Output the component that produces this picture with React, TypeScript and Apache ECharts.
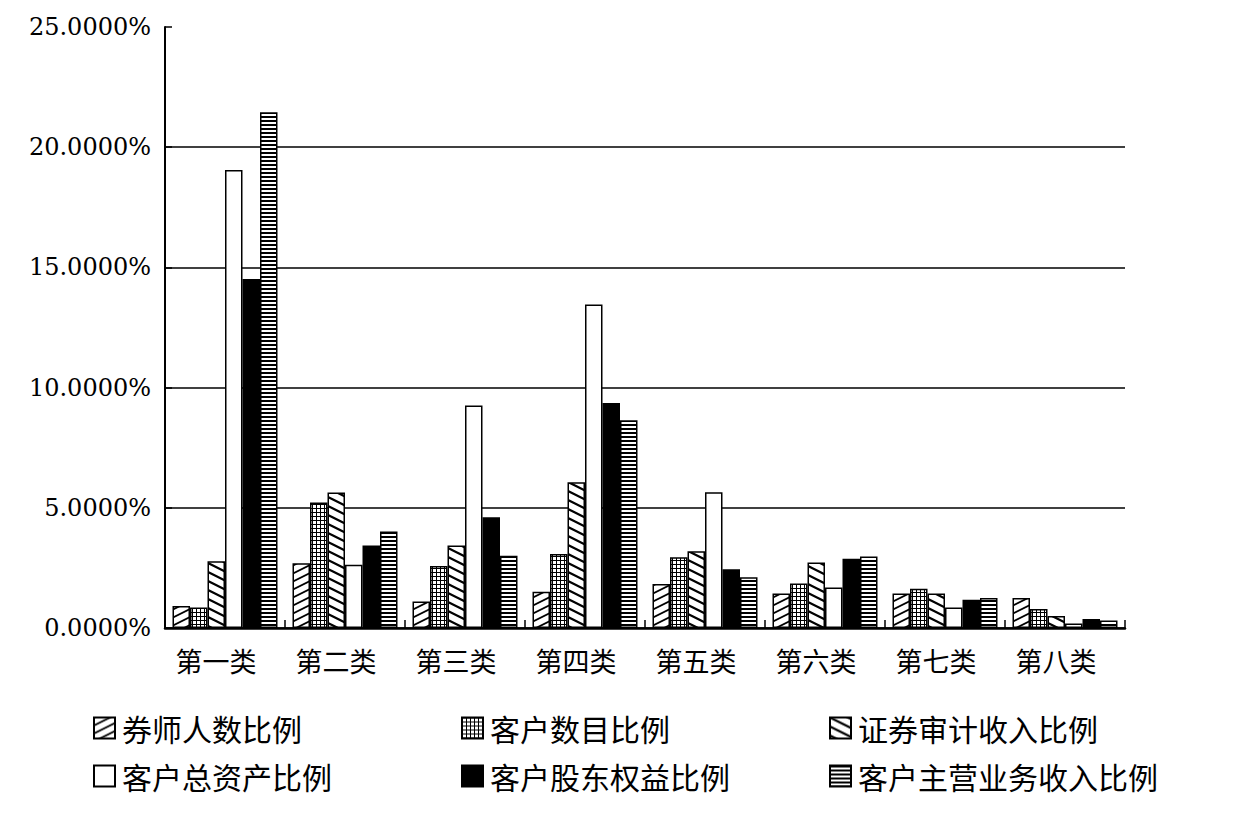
import React, { useEffect, useRef } from "react";
import * as echarts from "echarts";

const categories = ["第一类", "第二类", "第三类", "第四类", "第五类", "第六类", "第七类", "第八类"];
const seriesNames = ["券师人数比例", "客户数目比例", "证券审计收入比例", "客户总资产比例", "客户股东权益比例", "客户主营业务收入比例"];
const s1 = [0.92, 2.69, 1.1, 1.51, 1.83, 1.44, 1.44, 1.25];
const s2 = [0.85, 5.22, 2.58, 3.08, 2.94, 1.85, 1.63, 0.79];
const s3 = [2.78, 5.64, 3.43, 6.06, 3.19, 2.72, 1.44, 0.5];
const s4 = [19.05, 2.63, 9.26, 13.46, 5.65, 1.68, 0.85, 0.19];
const s5 = [14.52, 3.43, 4.61, 9.36, 2.44, 2.88, 1.17, 0.37];
const s6 = [21.45, 4.01, 3.01, 8.64, 2.11, 2.97, 1.25, 0.31];
const yTicks = [0, 5, 10, 15, 20, 25];

function makeCanvas(w: number, h: number, draw: (ctx: CanvasRenderingContext2D) => void) {
  const c = document.createElement("canvas");
  c.width = w;
  c.height = h;
  const ctx = c.getContext("2d")!;
  ctx.fillStyle = "#fff";
  ctx.fillRect(0, 0, w, h);
  ctx.strokeStyle = "#000";
  ctx.fillStyle = "#000";
  draw(ctx);
  return c;
}

function pattern(c: HTMLCanvasElement) {
  return { image: c, repeat: "repeat", imageWidth: c.width, imageHeight: c.height } as any;
}

export default function App() {
  const ref = useRef<HTMLDivElement>(null);
  useEffect(() => {
    if (!ref.current) return;
    const chart = echarts.init(ref.current, null, { renderer: "svg" });

    const slash = makeCanvas(16, 8, (ctx) => {
      ctx.lineWidth = 1.8;
      for (let k = -2; k <= 2; k++) {
        ctx.beginPath();
        ctx.moveTo(-16, 16 + k * 8);
        ctx.lineTo(32, -8 + k * 8);
        ctx.stroke();
      }
    });
    const dots = makeCanvas(4, 4, (ctx) => {
      ctx.fillRect(0, 0, 4, 1);
      ctx.fillRect(0, 0, 1, 4);
    });
    const back = makeCanvas(18, 9, (ctx) => {
      ctx.lineWidth = 2.2;
      for (let k = -2; k <= 2; k++) {
        ctx.beginPath();
        ctx.moveTo(-18, -9 + k * 9);
        ctx.lineTo(36, 18 + k * 9);
        ctx.stroke();
      }
    });
    const horiz = makeCanvas(4, 4, (ctx) => {
      ctx.fillRect(0, 0, 4, 2);
    });

    const colors: any[] = [pattern(slash), pattern(dots), pattern(back), "#ffffff", "#000000", pattern(horiz)];
    const datas = [s1, s2, s3, s4, s5, s6];
    const font = "'Noto Sans CJK SC', sans-serif";

    const legendPos = [
      [93, 713], [461, 713], [829, 713],
      [93, 761], [461, 761], [829, 761],
    ];

    chart.setOption({
      animation: false,
      backgroundColor: "#fff",
      grid: { left: 165, right: 114, top: 27, bottom: 188, containLabel: false },
      legend: seriesNames.map((n, i) => ({
        data: [n],
        left: legendPos[i][0],
        top: legendPos[i][1],
        icon: "rect",
        itemWidth: 21,
        itemHeight: 21,
        itemGap: 0,
        padding: 0,
        itemStyle: { borderColor: "#000", borderWidth: 2 },
        textStyle: { fontFamily: font, fontSize: 30, color: "#000", padding: [0, 0, 0, 2] },
        selectedMode: false,
      })),
      xAxis: {
        type: "category",
        data: categories,
        axisLine: { lineStyle: { color: "#000", width: 2.5 } },
        axisTick: { show: true, inside: true, length: 8, lineStyle: { color: "#000", width: 1.5 } },
        axisLabel: { fontFamily: font, fontSize: 27, color: "#000", margin: 19, padding: [0, 18, 0, 0] },
        splitLine: { show: false },
      },
      yAxis: {
        type: "value",
        min: 0,
        max: 25,
        interval: 5,
        axisLine: { show: true, lineStyle: { color: "#000", width: 2 } },
        axisTick: { show: true, inside: true, length: 7, lineStyle: { color: "#000", width: 1.5 } },
        axisLabel: {
          fontFamily: "'DejaVu Serif', serif",
          fontSize: 24,
          color: "#000",
          margin: 14,
          formatter: (v: number) => v.toFixed(4) + "%",
        },
        splitLine: {
          show: true,
          lineStyle: { color: ["#000", "#000", "#000", "#000", "#000", "transparent"], width: 1.5 },
        },
      },
      series: seriesNames.map((n, i) => ({
        name: n,
        type: "bar",
        data: datas[i],
        barWidth: 17.5,
        barGap: "0%",
        itemStyle: { color: colors[i], borderColor: "#000", borderWidth: 1.5 },
      })),
    });
    return () => chart.dispose();
  }, []);
  return <div ref={ref} style={{ position: "fixed", left: 0, top: 0, width: 1239, height: 816 }} />;
}
